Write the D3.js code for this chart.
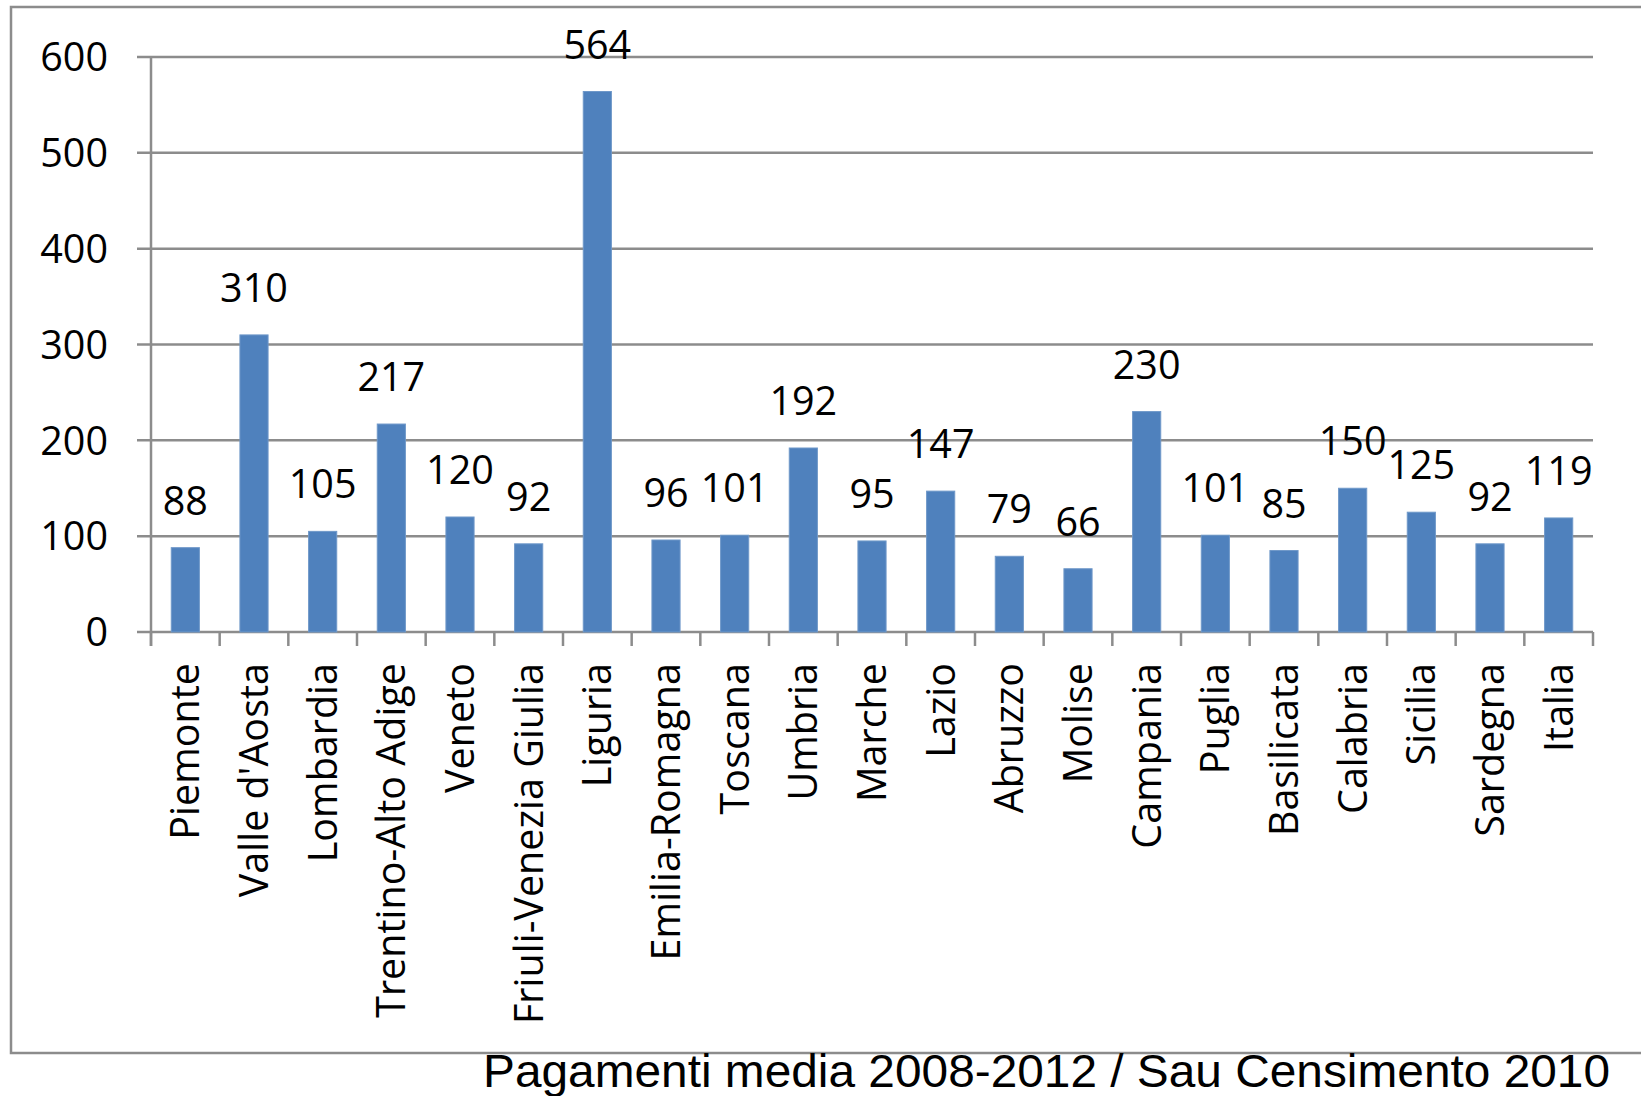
<!DOCTYPE html>
<html>
<head>
<meta charset="utf-8">
<script src="https://cdn.jsdelivr.net/npm/d3@7"></script>
<style>
  html, body { margin: 0; padding: 0; background: #fff; }
  svg { display: block; }
</style>
</head>
<body>
<svg id="chart" width="1641" height="1096"></svg>
<script>
const categories = ["Piemonte", "Valle d'Aosta", "Lombardia", "Trentino-Alto Adige", "Veneto",
  "Friuli-Venezia Giulia", "Liguria", "Emilia-Romagna", "Toscana", "Umbria", "Marche", "Lazio",
  "Abruzzo", "Molise", "Campania", "Puglia", "Basilicata", "Calabria", "Sicilia", "Sardegna", "Italia"];
const values = [88, 310, 105, 217, 120, 92, 564, 96, 101, 192, 95, 147, 79, 66, 230, 101, 85, 150, 125, 92, 119];
const yTicks = [0, 100, 200, 300, 400, 500, 600];
const title = "Pagamenti media 2008-2012 / Sau Censimento 2010";

(function () {
const svg = d3.select("#chart");
const W = 1641;
const plotLeft = 151, plotRight = 1593, plotTop = 57, plotBottom = 632;
const gridColor = "#8c8c8c";
const font = "'Open Sans', 'Noto Sans', sans-serif";
const fs = 39.5;

// outer frame
svg.append("rect")
  .attr("x", 11).attr("y", 7)
  .attr("width", W + 20).attr("height", 1053 - 7)
  .attr("fill", "none").attr("stroke", gridColor).attr("stroke-width", 2.5);

const x = d3.scaleBand().domain(categories).range([plotLeft, plotRight]).padding(0);
const y = d3.scaleLinear().domain([0, 600]).range([plotBottom, plotTop]);

// gridlines + y tick marks
svg.append("g").selectAll("line").data(yTicks).join("line")
  .attr("x1", plotLeft - 14).attr("x2", plotRight)
  .attr("y1", d => y(d)).attr("y2", d => y(d))
  .attr("stroke", gridColor).attr("stroke-width", 2.5);

// y axis labels
svg.append("g").selectAll("text").data(yTicks).join("text")
  .attr("x", 108).attr("y", d => y(d))
  .attr("dy", "0.36em")
  .attr("text-anchor", "end")
  .attr("font-family", font).attr("font-size", fs).attr("fill", "#000")
  .text(d => d);

// y axis line
svg.append("line")
  .attr("x1", plotLeft).attr("x2", plotLeft)
  .attr("y1", plotTop).attr("y2", plotBottom + 14)
  .attr("stroke", gridColor).attr("stroke-width", 2.5);

// x tick marks at band boundaries
const bounds = categories.map(c => x(c)).concat([x(categories[categories.length - 1]) + x.bandwidth()]);
svg.append("g").selectAll("line").data(bounds).join("line")
  .attr("x1", d => d).attr("x2", d => d)
  .attr("y1", plotBottom).attr("y2", plotBottom + 14)
  .attr("stroke", gridColor).attr("stroke-width", 2.5);

// bars
const bw = x.bandwidth() * 0.41;
svg.append("g").selectAll("rect").data(values).join("rect")
  .attr("x", (d, i) => x(categories[i]) + x.bandwidth() / 2 - bw / 2)
  .attr("y", d => y(d))
  .attr("width", bw)
  .attr("height", d => y(0) - y(d))
  .attr("fill", "#4f81bd")
  .attr("stroke", "#6f98c9").attr("stroke-width", 1);

// value labels
svg.append("g").selectAll("text").data(values).join("text")
  .attr("x", (d, i) => x(categories[i]) + x.bandwidth() / 2)
  .attr("y", d => y(d) - 33)
  .attr("text-anchor", "middle")
  .attr("font-family", font).attr("font-size", fs).attr("fill", "#000")
  .text(d => d);

// category labels
svg.append("g").selectAll("text").data(categories).join("text")
  .attr("transform", c => `translate(${x(c) + x.bandwidth() / 2 + 14},663) rotate(-90)`)
  .attr("text-anchor", "end")
  .attr("font-family", font).attr("font-size", fs).attr("fill", "#000")
  .text(c => c);

// bottom title
svg.append("text")
  .attr("x", 483).attr("y", 1087)
  .attr("font-family", "'Liberation Sans', Arial, sans-serif")
  .attr("font-size", 46).attr("fill", "#000")
  .attr("textLength", 1127).attr("lengthAdjust", "spacingAndGlyphs")
  .text(title);
})();
</script>
</body>
</html>
